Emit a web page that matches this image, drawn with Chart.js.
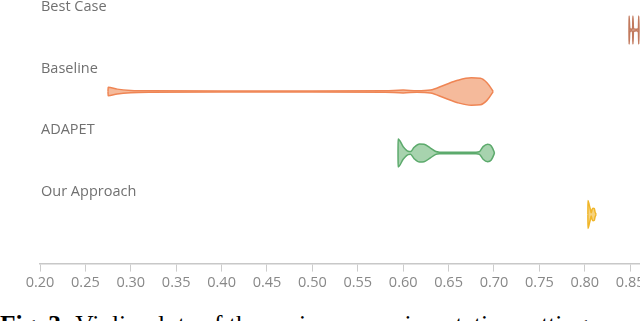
<!DOCTYPE html>
<html>
<head>
<meta charset="utf-8">
<script src="https://cdn.jsdelivr.net/npm/chart.js@4.4.1/dist/chart.umd.min.js"></script>
<style>
    html, body { margin: 0; padding: 0; background: #fff; overflow: hidden; }
    #wrap { position: relative; width: 640px; height: 321px; }
    #chartBox { position: absolute; left: 0; top: 0; width: 640px; height: 295px; }
    #caption {
        position: absolute; left: 0; top: 310px;
        font-family: "Liberation Serif", serif; font-size: 25.5px;
        white-space: nowrap; color: #000;
    }
</style>
</head>
<body>
<div id="wrap">
    <div id="chartBox"><canvas id="violinChart"></canvas></div>
    <div id="caption"><b>Fig. 3:</b> Violin plots of the various experimentation settings</div>
</div>
<script>
// Categories, top to bottom, and their row position on the value axis
const categories = ['Best Case', 'Baseline', 'ADAPET', 'Our Approach'];
const categoryPos = [3, 2, 1, 0];
const xTickValues = [0.20, 0.25, 0.30, 0.35, 0.40, 0.45, 0.50, 0.55, 0.60, 0.65, 0.70, 0.75, 0.80, 0.85];

// Violin outlines: x values and relative density (1 = widest)
const bestCaseX       = [0.8487, 0.8488, 0.8495, 0.8512, 0.8527, 0.8530, 0.8536, 0.8570, 0.8591, 0.8594, 0.8597];
const bestCaseDensity = [0,      1.0,    0.15,   0.05,   0.15,   1.0,    0.10,   0.05,   0.15,   1.0,    0];

const baselineX       = [0.2749, 0.2750, 0.285, 0.300, 0.320, 0.400, 0.500, 0.580, 0.600, 0.615, 0.630, 0.645, 0.660, 0.675, 0.685, 0.692, 0.698, 0.699];
const baselineDensity = [0,      0.30,   0.17,  0.08,  0.05,  0.04,  0.04,  0.05,  0.10,  0.05,  0.10,  0.45,  0.80,  0.98,  0.95,  0.65,  0.12,  0];

const adapetX       = [0.5943, 0.5944, 0.600, 0.6055, 0.608, 0.612, 0.618, 0.623, 0.630, 0.636, 0.640, 0.660, 0.680, 0.684, 0.688, 0.693, 0.697, 0.7000, 0.7005];
const adapetDensity = [0,      1.0,    0.45,  0.12,   0.10,  0.40,  0.64,  0.62,  0.35,  0.10,  0.06,  0.05,  0.06,  0.10,  0.45,  0.62,  0.50,  0.10,   0];

const ourX       = [0.8034, 0.8035, 0.8050, 0.8060, 0.8070, 0.8080, 0.8090, 0.8105, 0.8112, 0.8125];
const ourDensity = [0,      1.0,    0.65,   0.40,   0.12,   0.35,   0.45,   0.42,   0.20,   0];

const lineColors = ['#c27a5e', '#ef8554', '#5caa6c', '#f0b62a'];
const fillColors = ['#dca792', '#f5ba9b', '#a7d3ae', '#f7d37e'];
const halfWidth = 0.228;

function violinDatasets(xs, dens, pos, line, fill) {
    const upper = xs.map((x, i) => ({ x: x, y: pos + dens[i] * halfWidth }));
    const lower = xs.map((x, i) => ({ x: x, y: pos - dens[i] * halfWidth }));
    const common = {
        borderColor: line,
        borderWidth: 1.5,
        pointRadius: 0,
        cubicInterpolationMode: 'monotone'
    };
    return [
        { ...common, data: upper, fill: false },
        { ...common, data: lower, backgroundColor: fill, fill: '-1' }
    ];
}

const datasets = [
    ...violinDatasets(bestCaseX, bestCaseDensity, categoryPos[0], lineColors[0], fillColors[0]),
    ...violinDatasets(baselineX, baselineDensity, categoryPos[1], lineColors[1], fillColors[1]),
    ...violinDatasets(adapetX, adapetDensity, categoryPos[2], lineColors[2], fillColors[2]),
    ...violinDatasets(ourX, ourDensity, categoryPos[3], lineColors[3], fillColors[3])
];

Chart.defaults.font.family = "'Open Sans', sans-serif";

new Chart(document.getElementById('violinChart'), {
    type: 'line',
    data: { datasets: datasets },
    options: {
        responsive: true,
        maintainAspectRatio: false,
        animation: false,
        layout: { padding: { left: 40, right: 0, top: 0, bottom: 0 } },
        plugins: {
            legend: { display: false },
            tooltip: { enabled: false }
        },
        scales: {
            x: {
                type: 'linear',
                min: 0.20,
                max: 0.8608,
                afterBuildTicks: (scale) => {
                    scale.ticks = xTickValues.map(v => ({ value: v }));
                },
                afterFit: (scale) => {
                    scale.paddingLeft = 0;
                    scale.paddingRight = 0;
                },
                grid: {
                    drawOnChartArea: false,
                    drawTicks: true,
                    tickLength: 8,
                    tickWidth: 1,
                    tickColor: '#cccccc'
                },
                border: { display: true, color: '#c8c8c8', width: 1.5 },
                ticks: {
                    color: '#888888',
                    font: { size: 14.5 },
                    padding: 3,
                    maxRotation: 0,
                    autoSkip: false,
                    callback: (v) => Number(v).toFixed(2)
                }
            },
            y: {
                type: 'linear',
                min: -0.8,
                max: 3.489,
                afterBuildTicks: (scale) => {
                    scale.ticks = categoryPos.map(v => ({ value: v }));
                },
                afterFit: (scale) => {
                    scale.width = 0;
                    scale.paddingTop = 0;
                    scale.paddingBottom = 0;
                },
                grid: { display: false },
                border: { display: false },
                ticks: {
                    mirror: true,
                    padding: 1,
                    labelOffset: -23,
                    color: '#707070',
                    font: { size: 14.5 },
                    callback: (v) => categories[categoryPos.indexOf(v)]
                }
            }
        }
    }
});
</script>
</body>
</html>
